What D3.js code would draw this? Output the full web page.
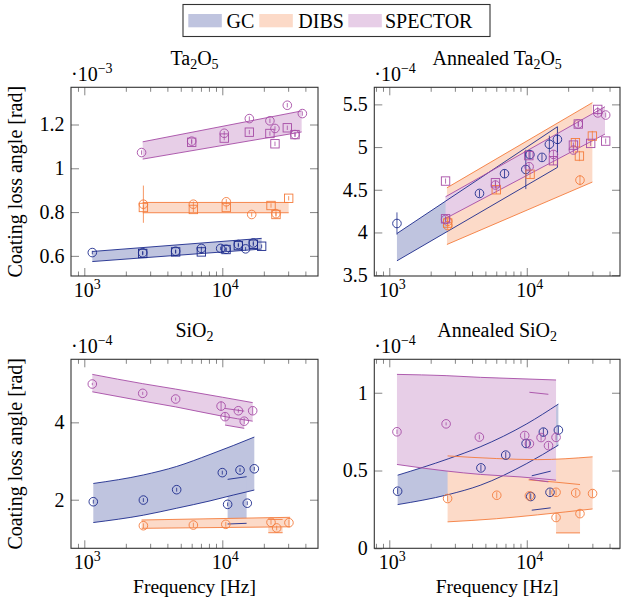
<!DOCTYPE html>
<html><head><meta charset="utf-8">
<script src="https://cdn.jsdelivr.net/npm/d3@7"></script>
<style>
body{margin:0;background:#fff}
svg{display:block}
</style>
</head><body>
<svg id="c" width="622" height="608" font-family="'Liberation Serif','DejaVu Serif','Noto Serif',serif"></svg>
<script>
// ---------------- DATA ----------------
// [frequency Hz, value, error]  ;  bands: [frequency, lower, upper]
// Ta2O5 (x1e-3)
const ta_gc_circ = [[1143,0.615,0.008],[2650,0.614,0.008],[4590,0.621,0.008],[7050,0.634,0.008],[9730,0.634,0.008],[10640,0.630,0.008],[13070,0.652,0.008],[14750,0.632,0.008],[16780,0.659,0.008]];
const ta_gc_sq = [[2650,0.611,0.008],[4590,0.618,0.008],[7050,0.618,0.008],[10640,0.629,0.008],[13070,0.647,0.008],[16780,0.653,0.008],[19280,0.644,0.008]];
const ta_dibs_circ = [[2680,0.836,0.085],[6170,0.836,0.012],[10690,0.847,0.012],[16330,0.789,0.01],[24490,0.793,0.01]];
const ta_dibs_sq = [[2680,0.821,0.01],[6170,0.812,0.012],[10690,0.821,0.01],[22540,0.830,0.01],[24490,0.789,0.01],[30270,0.863,0.01]];
const ta_spec_circ = [[2600,1.072,0.01],[6000,1.124,0.01],[10330,1.160,0.01],[15700,1.227,0.01],[22130,1.217,0.01],[24080,1.182,0.01],[29580,1.288,0.01],[33630,1.154,0.01],[38020,1.250,0.01]];
const ta_spec_sq = [[6000,1.119,0.01],[10330,1.138,0.01],[15700,1.165,0.01],[22130,1.159,0.01],[24080,1.112,0.01],[29580,1.185,0.01],[33630,1.154,0.01]];
const ta_gc_band = [[1143,0.574,0.620],[19280,0.631,0.680]];
const ta_dibs_band = [[2650,0.797,0.844],[30270,0.797,0.844]];
const ta_spec_band = [[2650,1.042,1.121],[37580,1.166,1.262]];

// Annealed Ta2O5 (x1e-4)
const ata_gc_circ = [[1137,4.105,0.13],[4530,4.457,0.04],[6890,4.688,0.05],[9840,4.738,0.23],[10540,4.912,0.05],[12900,4.879,0.04],[14600,5.033,0.1],[16710,5.090,0.05]];
const ata_dibs_circ = [[2660,4.13,0.04],[2660,4.08,0.05],[24380,4.613,0.06]];
const ata_dibs_sq = [[2660,4.11,0.04],[6000,4.50,0.05],[10570,4.682,0.05],[22590,5.051,0.05],[24150,4.895,0.06],[30000,5.129,0.06]];
const ata_spec_circ = [[2566,4.152,0.03],[5920,4.555,0.04],[10400,4.77,0.04],[15630,4.914,0.05],[21840,4.965,0.04],[23700,5.27,0.03],[32820,5.40,0.03],[37500,5.375,0.03]];
const ata_spec_sq = [[2566,4.602,0.03],[2566,4.16,0.03],[5920,4.582,0.03],[10350,4.90,0.04],[15630,4.840,0.05],[21840,5.023,0.03],[23700,5.270,0.03],[29160,5.043,0.03],[32820,5.441,0.03],[37500,5.07,0.03]];
const ata_gc_band = [[1137,3.668,3.988],[16710,4.762,5.238]];
const ata_dibs_band = [[2625,3.859,4.523],[30000,4.590,5.52]];
const ata_spec_band = [[2566,4.164,4.418],[37070,5.152,5.473]];

// SiO2 (x1e-4)
const si_gc_circ = [[1162,1.948,0.05],[2680,1.991,0.05],[4670,2.259,0.05],[10000,2.70,0.05],[10930,1.88,0.05],[13440,2.767,0.05],[15170,1.91,0.05],[17060,2.80,0.05]];
const si_dibs_circ = [[2680,1.328,0.06],[6170,1.345,0.06],[10600,1.364,0.06],[22540,1.416,0.06],[24770,1.27,0.06],[30400,1.406,0.08]];
const si_spec_circ = [[1143,4.991,0.03],[2650,4.75,0.04],[4590,4.603,0.04],[9800,4.42,0.12],[10470,4.147,0.1],[13070,4.30,0.05],[14420,4.03,0.08],[16600,4.30,0.1]];
const si_gc_band = [[1162,1.41,2.42],[2680,1.60,2.64],[4670,1.78,2.86],[8150,1.97,3.17],[12000,2.12,3.40],[17060,2.25,3.62]];
const si_gc_band2 = [[10930,1.372,2.526],[15000,1.39,2.595]];
const si_dibs_band = [[2600,1.26,1.476],[31000,1.30,1.545]];
const si_dibs_band2 = [[21540,1.147,1.49],[27360,1.147,1.49]];
const si_spec_band = [[1143,4.79,5.24],[2650,4.55,5.00],[4590,4.40,4.86],[10000,4.16,4.65],[16600,4.03,4.51]];
const si_spec_band2 = [[10470,3.93,4.36],[14420,3.845,4.29]];

// Annealed SiO2 (x1e-4)
const asi_gc_circ = [[1150,0.367,0.02],[4640,0.517,0.02],[7030,0.599,0.02],[9890,0.674,0.025],[10690,0.333,0.02],[13210,0.747,0.025],[14760,0.360,0.02],[16980,0.760,0.025]];
const asi_dibs_circ = [[2655,0.320,0.02],[6050,0.341,0.02],[10450,0.337,0.02],[16330,0.360,0.02],[16330,0.198,0.02],[22700,0.356,0.02],[24380,0.223,0.02],[30100,0.352,0.025]];
const asi_spec_circ = [[1137,0.749,0.015],[2590,0.800,0.01],[4520,0.715,0.015],[9660,0.725,0.02],[10450,0.672,0.02],[12710,0.712,0.02],[14390,0.660,0.02],[16330,0.713,0.02]];
const asi_gc_band = [[1150,0.281,0.470],[2680,0.345,0.575],[4580,0.405,0.652],[10000,0.545,0.80],[16980,0.663,0.927]];
const asi_gc_band2 = [[10870,0.245,0.466],[14930,0.260,0.496]];
const asi_dibs_band = [[2655,0.170,0.594],[6000,0.19,0.577],[12000,0.215,0.570],[30100,0.253,0.588]];
const asi_dibs_band2 = [[16330,0.099,0.425],[24400,0.099,0.410]];
const asi_dibs_line = [[10300,0.44],[16330,0.425]];
const asi_spec_band = [[1137,0.539,1.118],[2590,0.497,1.11],[4600,0.475,1.099],[8930,0.459,1.09],[16330,0.438,1.082]];
const asi_spec_band2 = [[10450,0.444,1.003],[14360,0.427,0.990]];

const legendNames = ["GC","DIBS","SPECTOR"];
const xMajor = [1e3,1e4];
const xMinor = [800,900,2e3,3e3,4e3,5e3,6e3,7e3,8e3,9e3,2e4,3e4,4e4];

// ---------------- STYLE / LAYOUT ----------------
const FONT = "'Liberation Serif','DejaVu Serif','Noto Serif',serif";
const col = {
  gc:{line:"#1c2a8c", fill:"#bfc4df"},
  dibs:{line:"#f47c3c", fill:"#fcdac8"},
  spec:{line:"#a64ca6", fill:"#e7cee7"}
};
const legendKeys = ["gc","dibs","spec"];

const panels = [
  {title:[["Ta",0],["2",1],["O",0],["5",1]], box:[71,87.3,318,276], xd:[801,49370], yd:[0.508,1.37], yt:[0.6,0.8,1,1.2], exp:"3", xlab:false, ylab:true,
   series:[
     {c:"gc", bands:[{d:ta_gc_band}], circ:ta_gc_circ, sq:ta_gc_sq},
     {c:"dibs", bands:[{d:ta_dibs_band}], circ:ta_dibs_circ, sq:ta_dibs_sq},
     {c:"spec", bands:[{d:ta_spec_band}], circ:ta_spec_circ, sq:ta_spec_sq}]},
  {title:[["Annealed Ta",0],["2",1],["O",0],["5",1]], box:[374.3,87.3,620,276], xd:[778,47660], yd:[3.49,5.7], yt:[3.5,4,4.5,5,5.5], exp:"4", xlab:false, ylab:false,
   series:[
     {c:"gc", bands:[{d:ata_gc_band, closeRight:true}], circ:ata_gc_circ, sq:[]},
     {c:"dibs", bands:[{d:ata_dibs_band}], circ:ata_dibs_circ, sq:ata_dibs_sq},
     {c:"spec", bands:[{d:ata_spec_band}], circ:ata_spec_circ, sq:ata_spec_sq}]},
  {title:[["SiO",0],["2",1]], box:[71,359.3,318,548.3], xd:[801,49370], yd:[0.744,5.63], yt:[2,4], exp:"4", xlab:true, ylab:true,
   series:[
     {c:"gc", bands:[{d:si_gc_band},{d:si_gc_band2}], circ:si_gc_circ, sq:[]},
     {c:"dibs", bands:[{d:si_dibs_band},{d:si_dibs_band2}], circ:si_dibs_circ, sq:[]},
     {c:"spec", bands:[{d:si_spec_band},{d:si_spec_band2}], circ:si_spec_circ, sq:[]}]},
  {title:[["Annealed SiO",0],["2",1]], box:[374.3,359.3,620,548.3], xd:[778,47660], yd:[0,1.215], yt:[0,0.5,1], exp:"4", xlab:true, ylab:false,
   series:[
     {c:"gc", bands:[{d:asi_gc_band},{d:asi_gc_band2}], circ:asi_gc_circ, sq:[]},
     {c:"dibs", bands:[{d:asi_dibs_band},{d:asi_dibs_band2}], lines:[asi_dibs_line], circ:asi_dibs_circ, sq:[]},
     {c:"spec", bands:[{d:asi_spec_band},{d:asi_spec_band2}], circ:asi_spec_circ, sq:[]}]}
];

const FS = 20;
const svg = d3.select("#c");
const txt = (sel) => sel.append("text").attr("font-family",FONT).attr("fill","#000");

panels.forEach(p => {
  const [x0,y0,x1,y1] = p.box;
  const x = d3.scaleLog().domain(p.xd).range([x0,x1]);
  const y = d3.scaleLinear().domain(p.yd).range([y1,y0]);
  const g = svg.append("g");
  const cid = "clip"+Math.round(x0)+"_"+Math.round(y0);
  svg.append("clipPath").attr("id",cid).append("rect").attr("x",x0).attr("y",y0).attr("width",x1-x0).attr("height",y1-y0);
  const plot = g.append("g").attr("clip-path","url(#"+cid+")");

  const area = d3.area().x(d=>x(d[0])).y0(d=>y(d[1])).y1(d=>y(d[2])).curve(d3.curveMonotoneX);
  const lo = d3.line().x(d=>x(d[0])).y(d=>y(d[1])).curve(d3.curveMonotoneX);
  const hi = d3.line().x(d=>x(d[0])).y(d=>y(d[2])).curve(d3.curveMonotoneX);
  const ln = d3.line().x(d=>x(d[0])).y(d=>y(d[1])).curve(d3.curveMonotoneX);

  p.series.forEach(s => s.bands.forEach(b => {
    plot.append("path").attr("d",area(b.d)).attr("fill",col[s.c].fill).attr("stroke","none");
  }));
  p.series.forEach(s => {
    const c = col[s.c].line;
    s.bands.forEach(b => {
      plot.append("path").attr("d",lo(b.d)).attr("fill","none").attr("stroke",c).attr("stroke-width",0.9);
      plot.append("path").attr("d",hi(b.d)).attr("fill","none").attr("stroke",c).attr("stroke-width",0.9);
      if (b.closeRight) {
        const L = b.d[b.d.length-1];
        plot.append("line").attr("x1",x(L[0])).attr("x2",x(L[0])).attr("y1",y(L[1])).attr("y2",y(L[2])).attr("stroke",c).attr("stroke-width",0.9);
      }
    });
    (s.lines||[]).forEach(l => {
      plot.append("path").attr("d",ln(l)).attr("fill","none").attr("stroke",c).attr("stroke-width",0.9);
    });
  });
  p.series.forEach(s => {
    const c = col[s.c].line;
    const mg = g.append("g").attr("stroke",c).attr("fill","none").attr("stroke-width",0.9);
    s.circ.forEach(d => {
      mg.append("circle").attr("cx",x(d[0])).attr("cy",y(d[1])).attr("r",4.3);
      mg.append("line").attr("x1",x(d[0])).attr("x2",x(d[0])).attr("y1",y(d[1]-d[2])).attr("y2",y(d[1]+d[2])).attr("stroke-width",0.8);
    });
    s.sq.forEach(d => {
      mg.append("rect").attr("x",x(d[0])-4.2).attr("y",y(d[1])-4.2).attr("width",8.4).attr("height",8.4);
      mg.append("line").attr("x1",x(d[0])).attr("x2",x(d[0])).attr("y1",y(d[1]-d[2])).attr("y2",y(d[1]+d[2])).attr("stroke-width",0.8);
    });
  });

  const tickStyle = sel => { sel.select(".domain").remove(); sel.selectAll("line").attr("stroke","#666").attr("stroke-width",0.8); sel.selectAll("text").remove(); };
  const xmin = xMinor.filter(v => v>=p.xd[0] && v<=p.xd[1]);
  g.append("g").attr("transform",`translate(0,${y1})`).call(d3.axisBottom(x).tickValues(xMajor).tickSize(-8).tickFormat("")).call(tickStyle);
  g.append("g").attr("transform",`translate(0,${y1})`).call(d3.axisBottom(x).tickValues(xmin).tickSize(-4.5).tickFormat("")).call(tickStyle);
  g.append("g").attr("transform",`translate(0,${y0})`).call(d3.axisTop(x).tickValues(xMajor).tickSize(-8).tickFormat("")).call(tickStyle);
  g.append("g").attr("transform",`translate(0,${y0})`).call(d3.axisTop(x).tickValues(xmin).tickSize(-4.5).tickFormat("")).call(tickStyle);
  g.append("g").attr("transform",`translate(${x0},0)`).call(d3.axisLeft(y).tickValues(p.yt).tickSize(-8).tickFormat("")).call(tickStyle);
  g.append("g").attr("transform",`translate(${x1},0)`).call(d3.axisRight(y).tickValues(p.yt).tickSize(-8).tickFormat("")).call(tickStyle);

  g.append("rect").attr("x",x0).attr("y",y0).attr("width",x1-x0).attr("height",y1-y0).attr("fill","none").attr("stroke","#333").attr("stroke-width",1.1);

  p.yt.forEach(v => {
    txt(g).attr("x",x0-6.5).attr("y",y(v)).attr("dy","0.34em").attr("text-anchor","end").attr("font-size",FS).text(String(v));
  });
  xMajor.forEach(v => {
    const t = txt(g).attr("x",x(v)+3).attr("y",y1+21).attr("text-anchor","middle").attr("font-size",FS);
    t.append("tspan").text("10");
    t.append("tspan").attr("dy",-8).attr("font-size",14).text(String(Math.round(Math.log10(v))));
  });
  const e = txt(g).attr("x",x0).attr("y",y0-6).attr("font-size",FS);
  e.append("tspan").text("·10");
  e.append("tspan").attr("dy",-8).attr("font-size",14).text("−"+p.exp);
  const t = txt(g).attr("x",(x0+x1)/2).attr("y",y0-22).attr("text-anchor","middle").attr("font-size",FS);
  p.title.forEach(([s,sub], i) => {
    if (sub) t.append("tspan").attr("dy",4).attr("font-size",14).text(s);
    else t.append("tspan").attr("dy",i ? -4 : 0).attr("font-size",FS).text(s);
  });
  if (p.ylab) {
    txt(g).attr("transform",`translate(22,${(y0+y1)/2}) rotate(-90)`).attr("text-anchor","middle").attr("font-size",FS).text("Coating loss angle [rad]");
  }
  if (p.xlab) {
    txt(g).attr("x",(x0+x1)/2).attr("y",593).attr("text-anchor","middle").attr("font-size",19.5).text("Frequency [Hz]");
  }
});

const lg = svg.append("g");
lg.append("rect").attr("x",183).attr("y",4.5).attr("width",307).attr("height",32).attr("fill","#fff").attr("stroke","#333").attr("stroke-width",1.1);
const swX = [188.3,259.3,348.3], txX = [226.5,298.3,385];
legendKeys.forEach((k,i) => {
  lg.append("rect").attr("x",swX[i]).attr("y",14).attr("width",33.5).attr("height",13.3).attr("fill",col[k].fill);
  txt(lg).attr("x",txX[i]).attr("y",27.5).attr("font-size",FS).text(legendNames[i]);
});
</script>
</body></html>
